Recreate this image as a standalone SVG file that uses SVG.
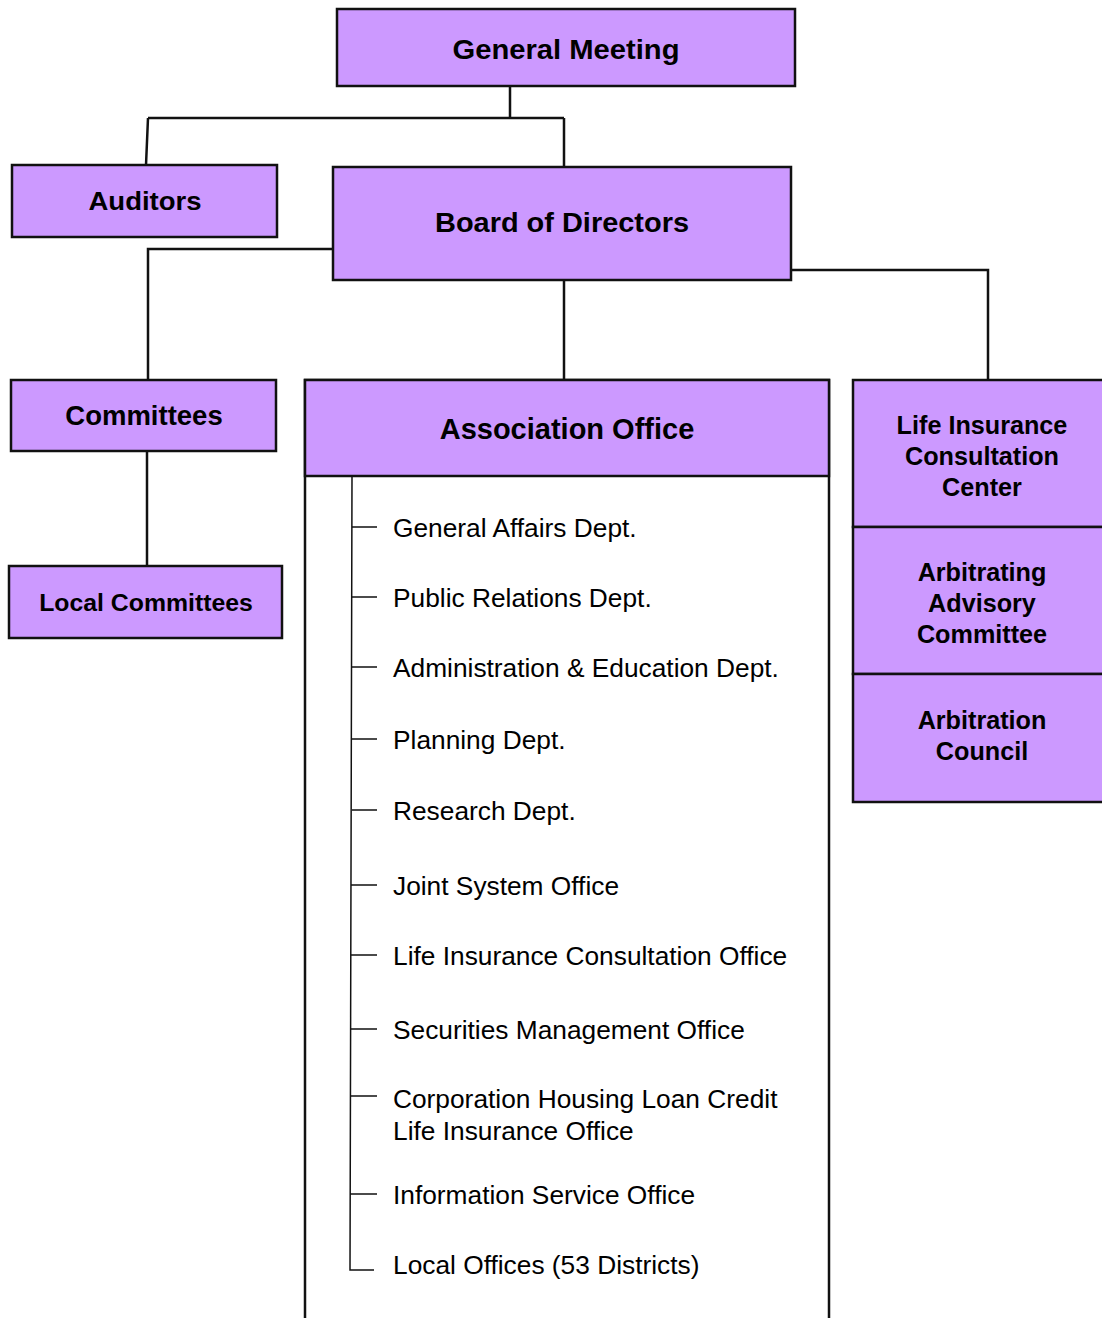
<svg xmlns="http://www.w3.org/2000/svg" width="1102" height="1318" viewBox="0 0 1102 1318">
<style>
.box{fill:#CC99FF;stroke:#111;stroke-width:2.5}
.wbox{fill:#fff;stroke:#111;stroke-width:2.5}
.b{font-family:"Liberation Sans",Arial,sans-serif;font-weight:bold;fill:#000;text-anchor:middle}
.t{font-family:"Liberation Sans",Arial,sans-serif;font-size:26.3px;fill:#000}
.r{font-size:25.2px}
.c{fill:none;stroke:#111;stroke-width:2.5}
.tr{fill:none;stroke:#111;stroke-width:1.5}
</style>
<rect width="1102" height="1318" fill="#fff"/>
<g id="connectors">
<path class="c" d="M510,86 V118 M148,118 H564 M148,118 L146,165 M564,118 V167"/>
<path class="c" d="M333,249 H148 V380"/>
<path class="c" d="M791,270 H988 V380"/>
<path class="c" d="M564,280 V380"/>
<path class="c" d="M147,451 V566"/>
</g>
<g id="general-meeting">
<rect class="box" x="337" y="9" width="458" height="77"/>
<text class="b" x="566" y="59" font-size="28" textLength="227" lengthAdjust="spacingAndGlyphs">General Meeting</text>
</g>
<g id="auditors">
<rect class="box" x="12" y="165" width="265" height="72"/>
<text class="b" x="145" y="210" font-size="26" textLength="113" lengthAdjust="spacingAndGlyphs">Auditors</text>
</g>
<g id="board">
<rect class="box" x="333" y="167" width="458" height="113"/>
<text class="b" x="562" y="232" font-size="28" textLength="254" lengthAdjust="spacingAndGlyphs">Board of Directors</text>
</g>
<g id="committees">
<rect class="box" x="11" y="380" width="265" height="71"/>
<text class="b" x="144" y="425" font-size="27.5">Committees</text>
</g>
<g id="local-committees">
<rect class="box" x="9" y="566" width="273" height="72"/>
<text class="b" x="146" y="611" font-size="24.8">Local Committees</text>
</g>
<g id="association-office">
<rect class="wbox" x="305" y="380" width="524" height="960"/>
<rect class="box" x="305" y="380" width="524" height="96"/>
<text class="b" x="567" y="439" font-size="29">Association Office</text>
<path class="tr" d="M352,476 L350,1270 H374"/>
<path class="tr" d="M352,527 H377 M352,597 H377 M352,667 H377 M352,739 H377 M352,810 H377 M351,885 H377 M351,955 H377 M351,1029 H377 M351,1096 H377 M350,1194 H377"/>
<text class="t" x="393" y="537">General Affairs Dept.</text>
<text class="t" x="393" y="607">Public Relations Dept.</text>
<text class="t" x="393" y="677">Administration &amp; Education Dept.</text>
<text class="t" x="393" y="749">Planning Dept.</text>
<text class="t" x="393" y="820">Research Dept.</text>
<text class="t" x="393" y="895">Joint System Office</text>
<text class="t" x="393" y="965">Life Insurance Consultation Office</text>
<text class="t" x="393" y="1039">Securities Management Office</text>
<text class="t" x="393" y="1108">Corporation Housing Loan Credit</text>
<text class="t" x="393" y="1140">Life Insurance Office</text>
<text class="t" x="393" y="1204">Information Service Office</text>
<text class="t" x="393" y="1274">Local Offices (53 Districts)</text>
</g>
<g id="life-insurance-center">
<rect class="box" x="853" y="380" width="260" height="147"/>
<text class="b r" x="982" y="434">Life Insurance</text>
<text class="b r" x="982" y="465">Consultation</text>
<text class="b r" x="982" y="496">Center</text>
</g>
<g id="arbitrating-advisory">
<rect class="box" x="853" y="527" width="260" height="147"/>
<text class="b r" x="982" y="581">Arbitrating</text>
<text class="b r" x="982" y="612">Advisory</text>
<text class="b r" x="982" y="643">Committee</text>
</g>
<g id="arbitration-council">
<rect class="box" x="853" y="674" width="260" height="128"/>
<text class="b r" x="982" y="729">Arbitration</text>
<text class="b r" x="982" y="760">Council</text>
</g>
</svg>
